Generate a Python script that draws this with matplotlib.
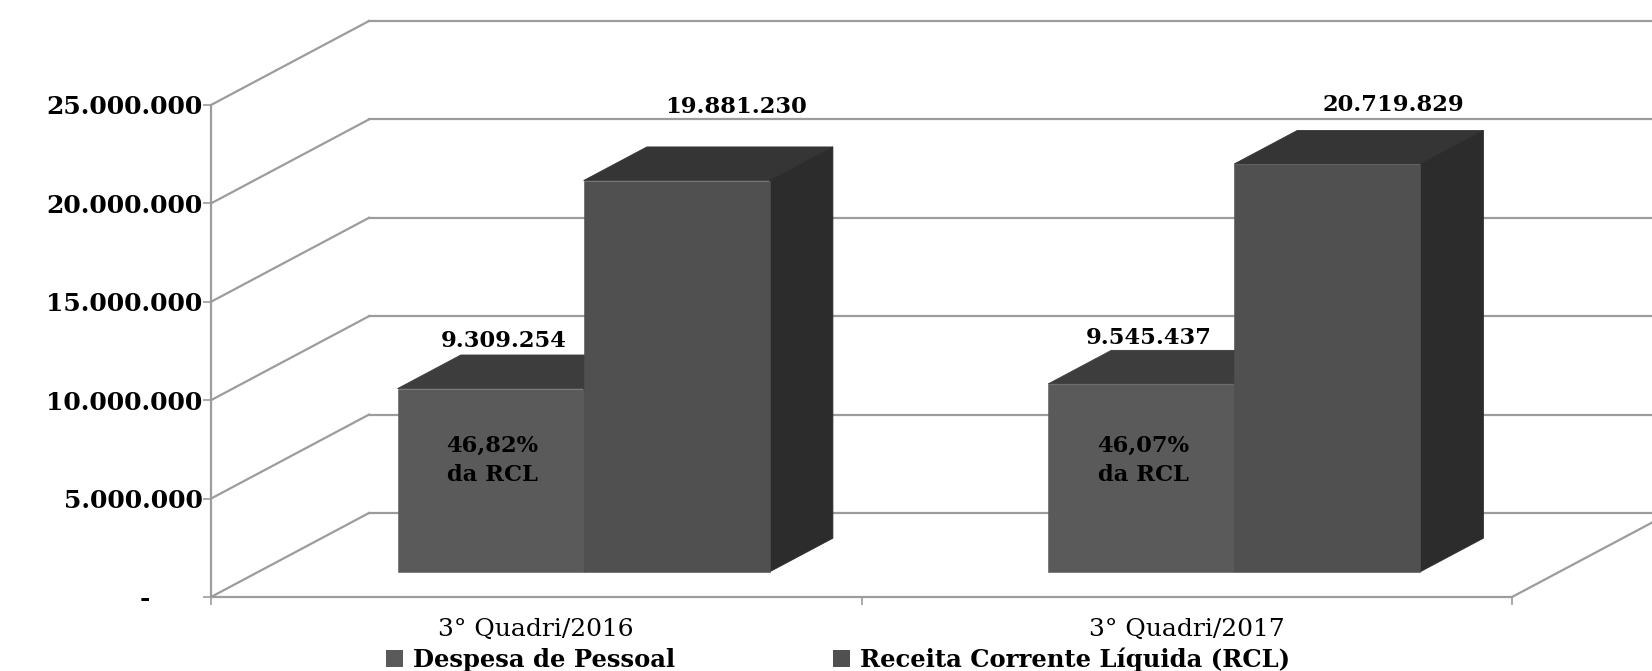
import matplotlib
matplotlib.use("Agg")
import matplotlib.pyplot as plt
from matplotlib.patches import Patch

# values in R$
periods = ["3° Quadri/2016", "3° Quadri/2017"]
despesa = [9309254, 9545437]
rcl = [19881230, 20719829]
despesa_labels = ["9.309.254", "9.545.437"]
rcl_labels = ["19.881.230", "20.719.829"]
pct_labels = ["46,82%\nda RCL", "46,07%\nda RCL"]
y_ticks = [0, 5000000, 10000000, 15000000, 20000000, 25000000]
y_tick_labels = ["-      ", "5.000.000", "10.000.000", "15.000.000", "20.000.000", "25.000.000"]
series_names = ["Despesa de Pessoal", "Receita Corrente Líquida (RCL)"]

# figure pixels
W, H = 1652, 671
left_px, right_px, top_px, bottom_px = 211, 1512, 105, 597

# fake 3d: full floor depth, in data units
cat_px = (right_px - left_px) / 2.0
val_px = (bottom_px - top_px) / 25000000.0
depth_x = 158 / cat_px
depth_y = 84 / val_px
bar_front = 0.30
bar_back = 0.70
bar_w = 0.286

grid_col = "#9c9c9c"
front_cols = ["#5a5a5a", "#505050"]
top_cols = ["#3d3d3d", "#353535"]
side_col = "#2c2c2c"

# label offset from the centre of the bar top, pixels
despesa_off = [(13, 48), (8, 46)]
rcl_off = [(59, 74), (66, 59)]
pct_y = 6950000  # height of the percent text on the front bars

fig = plt.figure(figsize=(W / 100, H / 100), dpi=100)
ax = fig.add_axes([left_px / W, 1 - bottom_px / H, (right_px - left_px) / W, (bottom_px - top_px) / H])
ax.set_xlim(0, 2)
ax.set_ylim(0, 25000000)

# walls and floor
for v in y_ticks:
    ax.plot([0, depth_x], [v, v + depth_y], color=grid_col, lw=1.6, clip_on=False, zorder=1)
    ax.plot([depth_x, 2.3], [v + depth_y, v + depth_y], color=grid_col, lw=1.6, clip_on=False, zorder=1)
ax.plot([2, 2 + depth_x], [0, depth_y], color=grid_col, lw=1.6, clip_on=False, zorder=1)


def draw_bar(x, value, col):
    x0 = x + bar_front * depth_x
    x1 = x0 + bar_w
    y0 = bar_front * depth_y
    y1 = y0 + value
    dx = (bar_back - bar_front) * depth_x
    dy = (bar_back - bar_front) * depth_y
    ax.fill([x0, x1, x1 + dx, x0 + dx], [y1, y1, y1 + dy, y1 + dy], color=top_cols[col], lw=0.6, clip_on=False, zorder=2)
    ax.fill([x1, x1 + dx, x1 + dx, x1], [y0, y0 + dy, y1 + dy, y1], color=side_col, lw=0.6, clip_on=False, zorder=2)
    ax.bar(x0, value, bar_w, bottom=y0, align="edge", color=front_cols[col], edgecolor=front_cols[col], lw=0.4,
           clip_on=False, zorder=3)
    return x0 + bar_w / 2, y1


val_font = dict(family="DejaVu Serif", fontweight="bold", fontsize=16.3, color="black")

for i in range(len(periods)):
    cx, cy = draw_bar(i + 0.5 - bar_w, despesa[i], 0)
    ax.annotate(despesa_labels[i], (cx, cy), xytext=(despesa_off[i][0] * 0.72, despesa_off[i][1] * 0.72),
                textcoords="offset points", ha="center", va="center", annotation_clip=False, zorder=5, **val_font)
    ax.text(cx + 0.003, pct_y, pct_labels[i], ha="center", va="center", linespacing=1.45, zorder=5, **val_font)
    cx, cy = draw_bar(i + 0.5, rcl[i], 1)
    ax.annotate(rcl_labels[i], (cx, cy), xytext=(rcl_off[i][0] * 0.72, rcl_off[i][1] * 0.72),
                textcoords="offset points", ha="center", va="center", annotation_clip=False, zorder=5, **val_font)

# axes
for s in ["top", "right"]:
    ax.spines[s].set_visible(False)
for s in ["left", "bottom"]:
    ax.spines[s].set_color(grid_col)
    ax.spines[s].set_linewidth(1.6)
    ax.spines[s].set_zorder(1)
ax.patch.set_visible(False)

ax.set_yticks(y_ticks)
ax.set_yticklabels(y_tick_labels, family="DejaVu Serif", fontweight="bold", fontsize=18)
ax.tick_params(axis="y", color=grid_col, width=1.2, length=6, pad=0)
ax.set_xticks([0, 1, 2])
ax.set_xticklabels([])
ax.tick_params(axis="x", which="major", color=grid_col, width=1.2, length=6)
ax.set_xticks([0.5, 1.5], minor=True)
ax.set_xticklabels(periods, minor=True, family="DejaVu Serif", fontsize=18)
ax.tick_params(axis="x", which="minor", length=0, pad=15)

handles = [Patch(facecolor=front_cols[0]), Patch(facecolor=front_cols[1])]
fig.legend(handles, series_names, loc="center", bbox_to_anchor=(838 / W, 1 - 660 / H), ncol=2,
           frameon=False, handlelength=0.7, handleheight=0.7, handletextpad=0.4, columnspacing=6.5,
           borderpad=0, prop=dict(family="DejaVu Serif", weight="bold", size=17.5))

fig.savefig("out.png", dpi=100)
